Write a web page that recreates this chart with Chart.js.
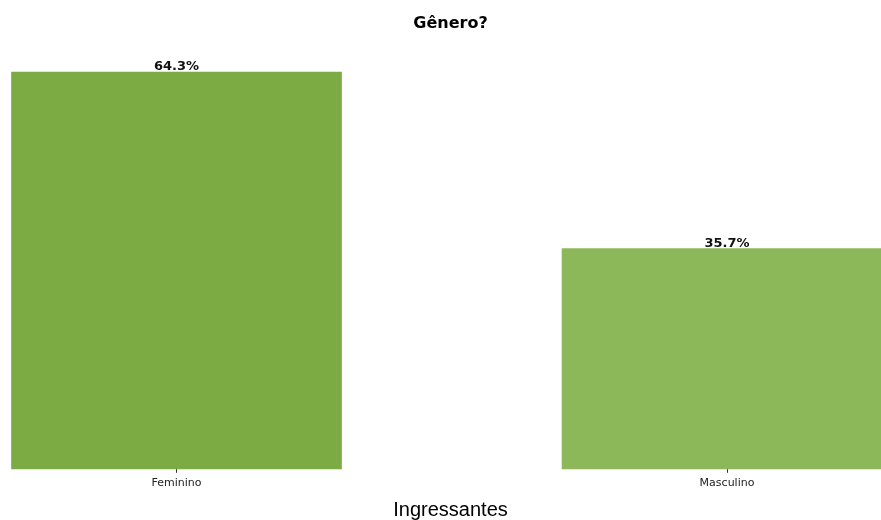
<!DOCTYPE html>
<html>
<head>
<meta charset="utf-8">
<script src="https://cdn.jsdelivr.net/npm/chart.js@4"></script>
<style>
html,body{margin:0;padding:0;background:#fff;}
#wrap{width:881px;height:520px;}
</style>
</head>
<body>
<div id="wrap"><canvas id="c" width="881" height="520"></canvas></div>
<script>
const chartTitle = "Gênero?";
const axisTitle = "Ingressantes";
const categories = ["Feminino", "Masculino"];
const percentages = [64.3, 35.7];
const barColors = ["#7bab42", "#8cb85a"];

const points = categories.map((c, i) => ({x: i, y: percentages[i]}));

const labelPlugin = {
  id: 'barLabels',
  afterDatasetsDraw(chart) {
    const ctx = chart.ctx;
    const meta = chart.getDatasetMeta(0);
    ctx.save();
    ctx.font = 'bold 13px "DejaVu Sans"';
    ctx.fillStyle = '#111';
    ctx.textAlign = 'center';
    ctx.textBaseline = 'alphabetic';
    meta.data.forEach((bar, i) => {
      ctx.fillText(percentages[i].toFixed(1) + '%', bar.x, bar.y - 2);
    });
    ctx.restore();
  }
};

new Chart(document.getElementById('c'), {
  type: 'bar',
  data: {
    datasets: [{
      data: points,
      backgroundColor: barColors,
      borderWidth: 0,
      barThickness: 330,
      clip: false
    }]
  },
  options: {
    responsive: false,
    animation: false,
    layout: {padding: {left: 20, right: 0, top: 0, bottom: 0}},
    plugins: {
      legend: {display: false},
      tooltip: {enabled: false},
      title: {
        display: true,
        text: chartTitle,
        color: '#000',
        font: {family: '"DejaVu Sans"', size: 16, weight: 'bold'},
        padding: {top: 14, bottom: 8}
      }
    },
    scales: {
      x: {
        type: 'linear',
        min: -0.2843,
        max: 1.2797,
        offset: false,
        afterBuildTicks(scale) {
          scale.ticks = categories.map((c, i) => ({value: i}));
        },
        ticks: {
          autoSkip: false,
          maxRotation: 0,
          padding: 4,
          color: '#222',
          font: {family: '"DejaVu Sans"', size: 11},
          callback: (v) => categories[v] !== undefined ? categories[v] : ''
        },
        grid: {
          display: true,
          offset: false,
          drawOnChartArea: false,
          drawTicks: true,
          tickLength: 4,
          color: '#333'
        },
        border: {display: false},
        title: {
          display: true,
          text: axisTitle,
          color: '#000',
          font: {family: '"Liberation Sans"', size: 20, lineHeight: 1.0},
          padding: {top: 6, bottom: 0}
        }
      },
      y: {
        display: false,
        min: 0,
        max: 69.3
      }
    }
  },
  plugins: [labelPlugin]
});
</script>
</body>
</html>
